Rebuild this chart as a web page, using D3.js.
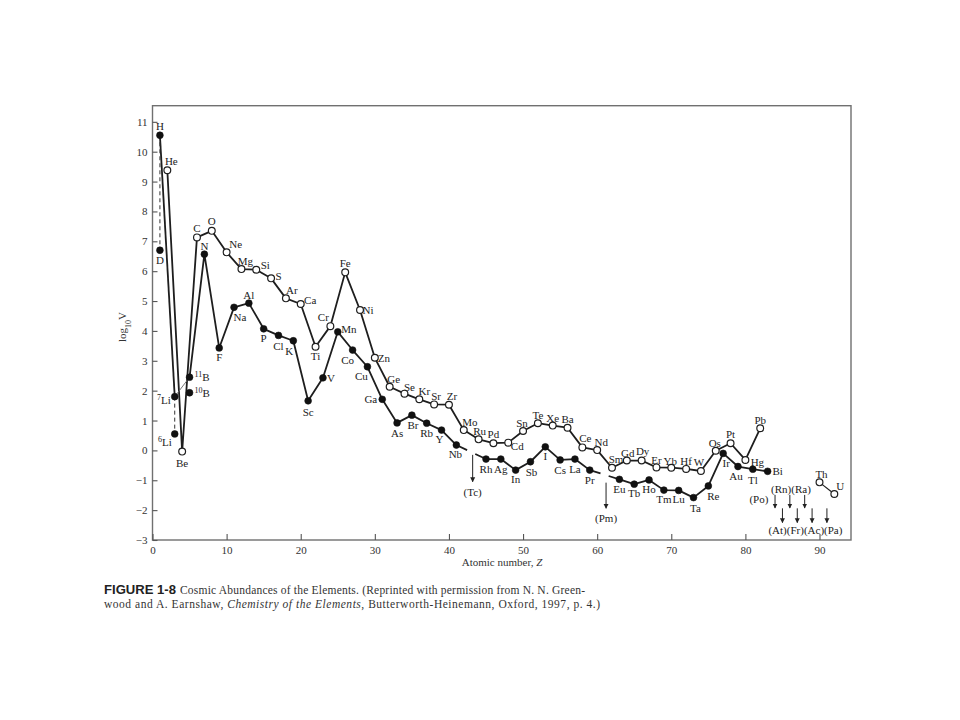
<!DOCTYPE html>
<html><head><meta charset="utf-8">
<script src="https://cdn.jsdelivr.net/npm/d3@7"></script>
<style>body{margin:0;background:#fff}</style>
</head><body>
<svg id="c" width="960" height="720" xmlns="http://www.w3.org/2000/svg"></svg>
<script>
// ---------- DATA ----------
// even-Z elements (open circles)
const evenZ   = [2,4,6,8,10,12,14,16,18,20,22,24,26,28,30,32,34,36,38,40,42,44,46,48,50,52,54,56,58,60,62,64,66,68,70,72,74,76,78,80,82];
const evenSym = ["He","Be","C","O","Ne","Mg","Si","S","Ar","Ca","Ti","Cr","Fe","Ni","Zn","Ge","Se","Kr","Sr","Zr","Mo","Ru","Pd","Cd","Sn","Te","Xe","Ba","Ce","Nd","Sm","Gd","Dy","Er","Yb","Hf","W","Os","Pt","Hg","Pb"];
const evenLog = [9.38,-0.04,7.13,7.35,6.63,6.07,6.05,5.76,5.09,4.90,3.47,4.16,5.96,4.70,3.10,2.13,1.90,1.71,1.54,1.53,0.68,0.37,0.24,0.26,0.65,0.91,0.83,0.76,0.10,0.01,-0.58,-0.34,-0.34,-0.57,-0.58,-0.62,-0.69,-0.01,0.24,-0.32,0.74];
// actinides (open circles, separate segment)
const actZ   = [90,92];
const actSym = ["Th","U"];
const actLog = [-1.07,-1.46];
// odd-Z elements (filled circles)
const oddZ   = [1,3,5,7,9,11,13,15,17,19,21,23,25,27,29,31,33,35,37,39,41,45,47,49,51,53,55,57,59,63,65,67,69,71,73,75,77,79,81,83];
const oddSym = ["H","7Li","11B","N","F","Na","Al","P","Cl","K","Sc","V","Mn","Co","Cu","Ga","As","Br","Rb","Y","Nb","Rh","Ag","In","Sb","I","Cs","La","Pr","Eu","Tb","Ho","Tm","Lu","Ta","Re","Ir","Au","Tl","Bi"];
const oddLog = [10.55,1.80,2.45,6.57,3.43,4.79,4.93,4.07,3.85,3.67,1.66,2.43,3.97,3.36,2.80,1.71,0.92,1.18,0.91,0.68,0.18,-0.29,-0.29,-0.66,-0.38,0.12,-0.32,-0.29,-0.66,-0.97,-1.13,-0.99,-1.33,-1.34,-1.58,-1.19,-0.10,-0.54,-0.63,-0.70];
// minor isotopes (dashed link to main isotope)
const isoZ   = [1,3,5];
const isoSym = ["D","6Li","10B"];
const isoLog = [6.70,0.55,1.93];
// elements without stable isotopes in the main sequences (arrows: upper limits)
const gapZ    = [43,61];
const gapSym  = ["(Tc)","(Pm)"];
const gapFrom = [-0.15,-1.08];
const gapTo   = [-1.05,-1.94];
// heavy unstable elements
const heavyZ    = [84,86,88,85,87,89,91];
const heavyFrom = [-1.49,-1.49,-1.49,-1.94,-1.94,-1.94,-1.94];
const heavyTo   = [-1.93,-1.93,-1.93,-2.42,-2.42,-2.42,-2.42];
const heavyText = ["(Po)","(Rn)(Ra)","(At)(Fr)(Ac)(Pa)"];
const heavyTextZ = [83.1,86.15,88.1];
const heavyTextLog = [-1.62,-1.30,-2.66];
// axes
const xTicks = [0,10,20,30,40,50,60,70,80,90];
const yTicks = [-3,-2,-1,0,1,2,3,4,5,6,7,8,9,10,11];

// ---------- LAYOUT (label offsets in px) ----------
const lab = {
 He:[4,-9],Be:[0,11],C:[0,-9],O:[0,-10],Ne:[9,-8],Mg:[4,-8],Si:[9,-5],S:[7.5,-2],Ar:[6,-8],Ca:[9.5,-4],
 Ti:[0,9.5],Cr:[-7,-9],Fe:[0,-9],Ni:[8,0],Zn:[9,0],Ge:[4,-8],Se:[5,-7],Kr:[5,-8],Sr:[2,-8],Zr:[3,-9],
 Mo:[6,-8],Ru:[1,-8],Pd:[0,-9],Cd:[9,3],Sn:[-1,-8],Te:[0,-8],Xe:[0,-8],Ba:[0,-9],Ce:[3,-9],Nd:[4,-8],
 Sm:[4,-9],Gd:[1,-8],Dy:[1,-10],Er:[0,-7],Yb:[-1,-7],Hf:[0,-8],W:[-2,-9],Os:[-1,-8],Pt:[0,-9],Hg:[12,2],Pb:[0,-8],
 Th:[2,-8],U:[6,-8],
 H:[0,-9],D:[0,10],N:[0,-8],F:[0,9],Na:[6,10],Al:[0,-8],P:[0,9],Cl:[0,11],K:[-4,10],Sc:[0,11],V:[8,0],Mn:[11,-3],
 Co:[-5,10],Cu:[-6,9],As:[0,10],Br:[1,10],Rb:[0,10],Y:[-2,9],Nb:[-1,9],Rh:[0,10],Ag:[0,10],In:[0,9],Sb:[1,10],
 I:[0,9],Cs:[0,10],La:[0,10],Pr:[0,10],Eu:[0,10],Tb:[0,9],Ho:[0,9],Tm:[0,9],Lu:[0,9],Ta:[2,10],Re:[5,10],
 Ir:[3,10],Au:[-2,9],Tl:[0,11],Bi:[10,0]
};
const labEnd = {"7Li":[-4,3],"6Li":[-3,8],Ga:[-5,0]};
const labStart = {"11B":[5,0],"10B":[5,0]};

// ---------- CHART ----------
const svg = d3.select("#c");
const serif = "'Liberation Serif','Times New Roman',serif";
const x = d3.scaleLinear().domain([0,94.25]).range([152.5,851]);
const y = d3.scaleLinear().domain([-3,11.54]).range([540,105.7]);
const ink = "#1e1e1e";

// frame
svg.append("rect").attr("x",x(0)).attr("y",y(11.54)).attr("width",x(94.25)-x(0)).attr("height",y(-3)-y(11.54))
  .attr("fill","none").attr("stroke","#707070").attr("stroke-width",1.4);

// axes
const gx = svg.append("g").attr("transform",`translate(0,${y(-3)})`)
  .call(d3.axisBottom(x).tickValues(xTicks).tickSizeInner(-6).tickSizeOuter(0).tickPadding(6).tickFormat(d3.format("d")));
const gy = svg.append("g").attr("transform",`translate(${x(0)},0)`)
  .call(d3.axisLeft(y).tickValues(yTicks).tickSizeInner(-5).tickSizeOuter(0).tickPadding(5).tickFormat(d3.format("d")));
[gx,gy].forEach(g=>{
  g.select(".domain").remove();
  g.selectAll("line").attr("stroke","#555").attr("stroke-width",1.1);
  g.selectAll("text").attr("font-family",serif).attr("font-size",11).attr("fill","#333");
});

// axis titles
const yt = svg.append("text").attr("transform",`translate(126,${327}) rotate(-90)`)
  .attr("text-anchor","middle").attr("font-family",serif).attr("font-size",11).attr("fill","#333");
yt.append("tspan").text("log");
yt.append("tspan").attr("baseline-shift","sub").attr("font-size",8).text("10");
yt.append("tspan").text("V");
const xt = svg.append("text").attr("x",502).attr("y",566).attr("text-anchor","middle")
  .attr("font-family",serif).attr("font-size",11).attr("fill","#333");
xt.append("tspan").text("Atomic number, ");
xt.append("tspan").attr("font-style","italic").text("Z");

// helpers
const pts = (Z,L,S)=>Z.map((z,i)=>({z,v:L[i],s:S?S[i]:null}));
const even = pts(evenZ,evenLog,evenSym);
const odd = pts(oddZ,oddLog,oddSym);
const act = pts(actZ,actLog,actSym);
const iso = pts(isoZ,isoLog,isoSym);
const line = d3.line().x(d=>x(d.z)).y(d=>y(d.v));
const drawLine = (data,w,col,dash)=>svg.append("path").attr("d",line(data)).attr("fill","none")
  .attr("stroke",col||ink).attr("stroke-width",w).attr("stroke-linejoin","round").attr("stroke-dasharray",dash||null);

// even line
drawLine(even,1.8);
drawLine(act,1.2);
// odd line, with gaps at Tc and Pm, thin link Li–B
const gapHalf = 0.55;
const interp = (a,b,z)=>({z, v:a.v+(b.v-a.v)*(z-a.z)/(b.z-a.z)});
let seg=[odd[0]];
for(let i=1;i<odd.length;i++){
  const a=odd[i-1], b=odd[i];
  if(a.z===3 && b.z===5){ // thin link 7Li–11B
    drawLine(seg,1.8); drawLine([a,b],0.9,"#666"); seg=[b]; continue;
  }
  const g = gapZ.find(gz=>gz>a.z && gz<b.z);
  if(g!==undefined){
    seg.push(interp(a,b,g-gapHalf)); drawLine(seg,1.8);
    seg=[interp(a,b,g+gapHalf), b];
  } else seg.push(b);
}
drawLine(seg,1.8);
// isotope dashed links
iso.forEach(d=>{
  const main = odd.find(o=>o.z===d.z);
  if(d.z!==5) drawLine([main,d],1,"#333","4,3");
});

// arrow marker
svg.append("defs").append("marker").attr("id","ah").attr("viewBox","0 0 10 10").attr("refX",9).attr("refY",5)
  .attr("markerWidth",5).attr("markerHeight",6).attr("markerUnits","userSpaceOnUse").attr("orient","auto")
  .append("path").attr("d","M0,0 L10,5 L0,10 Z").attr("fill","#222");
const arrow=(z,a,b)=>svg.append("line").attr("x1",x(z)).attr("x2",x(z)).attr("y1",y(a)).attr("y2",y(b))
  .attr("stroke","#222").attr("stroke-width",1).attr("marker-end","url(#ah)");
gapZ.forEach((z,i)=>{
  arrow(z+0.2,gapFrom[i],gapTo[i]);
  svg.append("text").attr("x",x(z+0.2)).attr("y",y(gapTo[i])+10).attr("dominant-baseline","central")
    .attr("text-anchor","middle").attr("font-family",serif).attr("font-size",11).attr("fill","#222").text(gapSym[i]);
});
heavyZ.forEach((z,i)=>arrow(z,heavyFrom[i],heavyTo[i]));
heavyText.forEach((t,i)=>svg.append("text").attr("x",x(heavyTextZ[i])).attr("y",y(heavyTextLog[i]))
  .attr("dominant-baseline","central").attr("text-anchor",i===0?"end":"middle")
  .attr("font-family",serif).attr("font-size",11).attr("fill","#222").text(t));

// markers
const R=3.4;
svg.selectAll(".oc").data(even.concat(act)).join("circle").attr("cx",d=>x(d.z)).attr("cy",d=>y(d.v)).attr("r",R)
  .attr("fill","#fff").attr("stroke",ink).attr("stroke-width",1.2);
svg.selectAll(".fc").data(odd.concat(iso)).join("circle").attr("cx",d=>x(d.z)).attr("cy",d=>y(d.v)).attr("r",R)
  .attr("fill","#111").attr("stroke","#111").attr("stroke-width",0.6);

// labels
function label(d){
  let off=lab[d.s], anchor="middle";
  if(labEnd[d.s]){off=labEnd[d.s];anchor="end";}
  if(labStart[d.s]){off=labStart[d.s];anchor="start";}
  if(!off) off=[0,-9];
  const t=svg.append("text").attr("x",x(d.z)+off[0]).attr("y",y(d.v)+off[1]).attr("dominant-baseline","central")
    .attr("text-anchor",anchor).attr("font-family",serif).attr("font-size",11).attr("fill","#222");
  const m=d.s.match(/^(\d+)(.*)$/);
  if(m){ t.append("tspan").attr("font-size",8).attr("dy",-3).text(m[1]); t.append("tspan").attr("dy",3).text(m[2]); }
  else t.text(d.s);
}
even.concat(act,odd,iso).forEach(label);

// caption
svg.append("text").attr("x",104).attr("y",594).attr("font-family","'Liberation Sans',Arial,sans-serif")
  .attr("font-weight","bold").attr("font-size",12.5).attr("fill","#222").attr("textLength",72).attr("lengthAdjust","spacingAndGlyphs")
  .text("FIGURE 1-8");
svg.append("text").attr("x",180).attr("y",594).attr("font-family",serif).attr("font-size",11.5).attr("fill","#333")
  .attr("textLength",405).attr("lengthAdjust","spacing")
  .text("Cosmic Abundances of the Elements. (Reprinted with permission from N. N. Green-");
const c2=svg.append("text").attr("x",104).attr("y",608).attr("font-family",serif).attr("font-size",11.5).attr("fill","#333")
  .attr("textLength",496).attr("lengthAdjust","spacing");
c2.append("tspan").text("wood and A. Earnshaw, ");
c2.append("tspan").attr("font-style","italic").text("Chemistry of the Elements");
c2.append("tspan").text(", Butterworth-Heinemann, Oxford, 1997, p. 4.)");
</script>
</body></html>
